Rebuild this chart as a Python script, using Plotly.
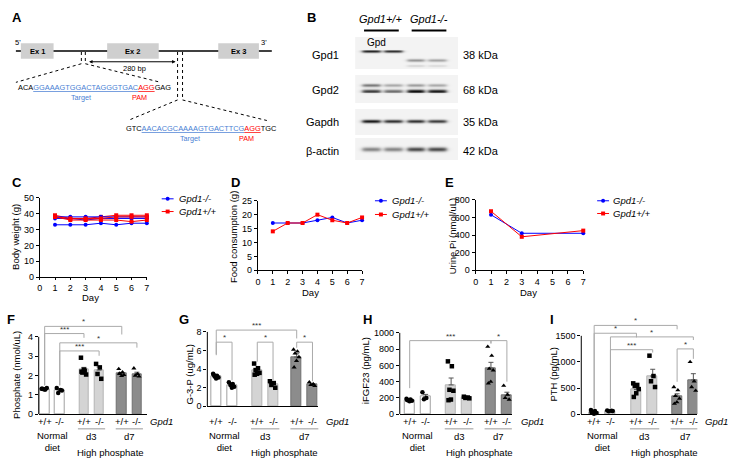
import numpy as np
import plotly.graph_objects as go

W, H = 741, 473
FONT = "Liberation Sans, Arial, sans-serif"
BLUE = "#0000ff"
RED = "#ff0000"
SEQ_BLUE = "#4a7fd4"

# ---------------- data ----------------
days = [1, 2, 3, 4, 5, 6, 7]
body_weight_ko = [[33, 33, 33, 34, 33, 34, 34],
                  [37, 37, 36, 37, 37, 37, 37],
                  [38, 38, 38, 38, 38, 38, 38]]
body_weight_wt = [[39, 37, 37, 38, 39, 39, 39],
                  [38, 36, 36, 36, 36, 35, 36],
                  [38, 37, 37, 37, 38, 38, 38]]
food_ko = [17, 17, 17, 18, 19, 17, 18]
food_wt = [14, 17, 17, 20, 18, 17, 19]
urine_days = [1, 3, 7]
urine_ko = [630, 420, 420]
urine_wt = [670, 380, 450]

genotype_labels = ["+/+", "-/-", "+/+", "-/-", "+/+", "-/-"]
diet_labels = ["Normal<br>diet", "d3", "d7"]

phos_mean = [1.30, 1.24, 2.30, 2.28, 2.10, 2.08]
phos_sem = [0.03, 0.06, 0.12, 0.16, 0.06, 0.09]
phos_points = [[1.32, 1.28, 1.30, 1.35, 1.27, 1.31], [1.35, 1.25, 1.10, 1.22],
               [2.92, 2.25, 2.15, 2.05, 2.30, 2.20], [2.60, 2.42, 2.08, 1.83],
               [2.34, 2.17, 2.08, 2.03, 1.98, 2.10], [2.37, 2.08, 2.00, 1.95]]

g3p_mean = [3.2, 2.3, 3.85, 2.35, 5.3, 2.35]
g3p_sem = [0.1, 0.12, 0.2, 0.17, 0.35, 0.1]
g3p_points = [[3.5, 3.3, 3.2, 3.1, 3.0, 3.4], [2.6, 2.4, 2.3, 2.1, 2.0],
              [4.6, 4.1, 3.9, 3.6, 3.5, 3.4], [2.7, 2.5, 2.3, 2.0],
              [6.1, 5.9, 5.7, 5.3, 4.9, 4.2], [2.6, 2.4, 2.3, 2.2]]

fgf_mean = [175, 215, 360, 205, 568, 232]
fgf_sem = [8, 28, 85, 5, 70, 38]
fgf_points = [[190, 180, 170, 165, 160, 175], [270, 200, 185],
              [650, 590, 300, 288, 180, 172], [215, 205, 200, 195],
              [830, 720, 560, 540, 400, 380], [350, 240, 200, 180]]

pth_mean = [40, 62, 470, 730, 345, 655]
pth_sem = [12, 5, 40, 130, 45, 120]
pth_points = [[80, 60, 40, 20, 10, 30], [70, 65, 55, 60],
              [590, 560, 540, 480, 400, 330], [1120, 730, 630, 520],
              [520, 460, 350, 300, 230, 200], [1000, 630, 520, 450]]

# significance brackets: (bar i, bar j, top, left-leg bottom, right-leg bottom, label)
phos_sig = [(0, 4, 4.54, 1.49, 4.12, "*"), (0, 2, 4.17, 1.49, 3.95, "***"),
            (1, 5, 3.69, 1.49, 3.44, "*"), (1, 3, 3.27, 1.49, 3.02, "***")]
g3p_sig = [(0, 4, 8.2, 5.6, 7.3, "***"), (0, 1, 6.9, 5.5, 2.8, "*"),
           (2, 3, 6.9, 4.8, 2.8, "*"), (4, 5, 6.9, 6.3, 2.7, "*")]
fgf_sig = [(0, 4, 905, 320, 870, "***"), (4, 5, 905, 870, 400, "*")]
pth_sig = [(0, 4, 1700, 110, 1625, "*"), (0, 2, 1550, 110, 1470, "*"),
           (1, 5, 1480, 110, 1420, "*"), (1, 3, 1235, 110, 1180, "***"),
           (4, 5, 1250, 620, 1060, "*")]

# western blot band intensities per lane (4 lanes)
blot_names = ["Gpd1", "Gpd2", "Gapdh", "β-actin"]
blot_sizes = ["38 kDa", "68 kDa", "35 kDa", "42 kDa"]
gpd1_band = [0.85, 0.80, 0.0, 0.0]
gpd1_lower_band = [0.0, 0.0, 0.38, 0.32]
gpd1_faint_band = [0.0, 0.0, 0.12, 0.10]
gpd2_upper_band = [0.50, 0.30, 0.35, 0.30]
gpd2_lower_band = [0.75, 0.55, 0.95, 0.90]
gapdh_band = [0.90, 0.80, 0.80, 0.75]
actin_band = [0.45, 0.45, 0.70, 0.70]

# ---------------- helpers ----------------
def X(px):
    return px / W


def Y(py):
    return 1 - py / H


def xmap(p1, v1, p2, v2, lo, hi):
    s = (v2 - v1) / (p2 - p1)
    return dict(domain=[lo / W, hi / W], range=[v1 + (lo - p1) * s, v1 + (hi - p1) * s])


def ymap(p1, v1, p2, v2, top, bottom):
    s = (v2 - v1) / (p2 - p1)
    return dict(domain=[1 - bottom / H, 1 - top / H],
                range=[v1 + (bottom - p1) * s, v1 + (top - p1) * s])


fig = go.Figure()
shapes = []
annos = []


def anno(**kw):
    d = dict(showarrow=False, xanchor="center", yanchor="middle")
    d.update(kw)
    annos.append(d)


def text(x, y, t, size=9.5, **kw):
    col = kw.pop("color", "black")
    anno(x=X(x), y=Y(y), xref="paper", yref="paper", text=t,
         font=dict(family=FONT, size=size, color=col), **kw)


def pline(x0, y0, x1, y1, color="black", width=1, dash=None):
    ln = dict(color=color, width=width)
    if dash:
        ln["dash"] = dash
    shapes.append(dict(type="line", xref="paper", yref="paper", x0=X(x0), y0=Y(y0),
                       x1=X(x1), y1=Y(y1), line=ln))


TICKFONT = dict(family=FONT, size=9, color="black")


def base_axis(**kw):
    d = dict(showline=True, linecolor="black", linewidth=1, ticks="outside", ticklen=3,
             tickwidth=1, tickcolor="black", tickfont=TICKFONT, showgrid=False,
             zeroline=False, fixedrange=True)
    d.update(kw)
    return d


layout_axes = {}

# ---------------- panel A: gene diagram ----------------
pline(13, 47, 271, 47, width=1.6)
for (x0, x1, lab) in [(18, 51, "Ex 1"), (105, 157, "Ex 2"), (217, 258, "Ex 3")]:
    shapes.append(dict(type="rect", xref="paper", yref="paper", x0=X(x0), x1=X(x1),
                       y0=Y(55), y1=Y(39), fillcolor="#cfcfcf", line=dict(width=0)))
    text((x0 + x1) / 2, 47, "<b>" + lab + "</b>", size=7.5)
text(15, 38, "5'", size=7.5)
text(263, 38, "3'", size=7.5)
for xx in (79, 83):
    pline(xx, 48, xx, 60, dash="dot")
for xx in (176, 181):
    pline(xx, 48, xx, 97, dash="dot")
pline(79, 60, 13, 79, dash="dot")
pline(83, 60, 159, 79, dash="dot")
pline(176, 97, 126, 118, dash="dot")
pline(181, 97, 266, 118, dash="dot")
annos.append(dict(x=X(174), y=Y(58), ax=-88, ay=0, xref="paper", yref="paper",
                  axref="pixel", ayref="pixel", text="", showarrow=True, arrowhead=2,
                  arrowsize=0.7, arrowwidth=1, arrowside="end+start", arrowcolor="black"))
text(133, 65, "280 bp", size=7.5)
seq1 = ('ACA<span style="color:%s"><u>GGAAAGTGGACTAGGGTGAC</u></span>'
        '<span style="color:%s"><u>AGG</u></span>GAG' % (SEQ_BLUE, RED))
seq2 = ('GTC<span style="color:%s"><u>AACACGCAAAAGTGACTTCG</u></span>'
        '<span style="color:%s"><u>AGG</u></span>TGC' % (SEQ_BLUE, RED))
text(13, 84, seq1, size=7.4, xanchor="left")
text(122, 126, seq2, size=7.4, xanchor="left")
text(79, 94, "Target", size=7.2, color=SEQ_BLUE)
text(138, 94, "PAM", size=7.2, color=RED)
text(189, 136, "Target", size=7.2, color=SEQ_BLUE)
text(245, 136, "PAM", size=7.2, color=RED)

# ---------------- panel B: western blot ----------------
bx = np.arange(355, 461)
by = np.arange(30, 161)
XX, YY = np.meshgrid(bx, by)
Z = np.zeros(XX.shape)
blot_boxes = [(33, 65), (72, 100), (107, 133), (137, 158)]
for (y0, y1) in blot_boxes:
    Z[(YY >= y0) & (YY <= y1) & (XX <= 458)] = 0.05
lane_centers = [371, 393, 416, 438]
band_rows = [(48, gpd1_band, 1.4), (57, gpd1_lower_band, 1.5), (62.5, gpd1_faint_band, 1.2),
             (82, gpd2_upper_band, 1.6), (88, gpd2_lower_band, 1.9),
             (119, gapdh_band, 1.7), (148, actin_band, 2.2)]
for (yc, inten, sig) in band_rows:
    for c, a in zip(lane_centers, inten):
        lane = 1 / (1 + np.exp((np.abs(XX - c) - 9) / 1.3))
        Z += a * np.exp(-((YY - yc) / sig) ** 2) * lane
Z = np.clip(Z, 0, 1)
fig.add_trace(go.Heatmap(x=bx, y=by, z=Z, colorscale=[[0, "#ffffff"], [1, "#111111"]],
                         zmin=0, zmax=1, showscale=False, hoverinfo="skip",
                         xaxis="x8", yaxis="y8"))
layout_axes["xaxis8"] = dict(domain=[X(355), X(461)], range=[354.5, 460.5], visible=False,
                             anchor="y8", fixedrange=True)
layout_axes["yaxis8"] = dict(domain=[Y(160.5), Y(29.5)], range=[160.5, 29.5], visible=False,
                             anchor="x8", fixedrange=True)
text(381, 14, "<i>Gpd1+/+</i>", size=11)
text(429, 14, "<i>Gpd1-/-</i>", size=11)
pline(364, 26, 399, 26, width=2)
pline(412, 26, 447, 26, width=2)
text(377, 38, "Gpd", size=10)
for name, size, yy in zip(blot_names, blot_sizes, [51, 87, 120, 149]):
    text(341, yy, name, size=11, xanchor="right")
    text(462, yy, size, size=11, xanchor="left")

# ---------------- panels C, D, E: line charts ----------------
for k, (ko, wt) in enumerate(zip(body_weight_ko, body_weight_wt)):
    fig.add_trace(go.Scatter(x=days, y=ko, mode="lines+markers", xaxis="x", yaxis="y",
                             line=dict(color=BLUE, width=1), cliponaxis=False,
                             marker=dict(symbol="circle", size=4, color=BLUE), showlegend=False))
    fig.add_trace(go.Scatter(x=days, y=wt, mode="lines+markers", xaxis="x", yaxis="y",
                             line=dict(color=RED, width=1), cliponaxis=False,
                             marker=dict(symbol="square", size=4, color=RED), showlegend=False))
layout_axes["xaxis"] = base_axis(domain=[X(37), X(145)], range=[0, 7], dtick=1, tick0=0, anchor="y",
                                 ticklen=2)
layout_axes["yaxis"] = base_axis(domain=[Y(278), Y(197)], range=[0, 50], dtick=10, tick0=0, anchor="x")

for ser, col, sym in [(food_ko, BLUE, "circle"), (food_wt, RED, "square")]:
    fig.add_trace(go.Scatter(x=days, y=ser, mode="lines+markers", xaxis="x2", yaxis="y2",
                             line=dict(color=col, width=1), cliponaxis=False,
                             marker=dict(symbol=sym, size=4, color=col), showlegend=False))
layout_axes["xaxis2"] = base_axis(domain=[X(257), X(362)], range=[0, 7], dtick=1, tick0=0, anchor="y2")
layout_axes["yaxis2"] = base_axis(domain=[Y(271), Y(200)], range=[0, 25], dtick=5, tick0=0, anchor="x2")

for ser, col, sym in [(urine_ko, BLUE, "circle"), (urine_wt, RED, "square")]:
    fig.add_trace(go.Scatter(x=urine_days, y=ser, mode="lines+markers", xaxis="x3", yaxis="y3",
                             line=dict(color=col, width=1), cliponaxis=False,
                             marker=dict(symbol=sym, size=4, color=col), showlegend=False))
layout_axes["xaxis3"] = base_axis(domain=[X(476.5), X(585)], range=[0, 7], dtick=1, tick0=0, anchor="y3")
layout_axes["yaxis3"] = base_axis(domain=[Y(271), Y(199)], range=[0, 800], dtick=200, tick0=0, anchor="x3")


# manual legends
def legend(xs, xt, ys):
    for yy, col, sym, name in [(ys[0], BLUE, "circle", "<i>Gpd1-/-</i>"),
                               (ys[1], RED, "rect", "<i>Gpd1+/+</i>")]:
        pline(xs - 6, yy, xs + 6, yy, color=col, width=1)
        shapes.append(dict(type=sym, xref="paper", yref="paper", x0=X(xs - 2), x1=X(xs + 2),
                           y0=Y(yy + 2), y1=Y(yy - 2), fillcolor=col, line=dict(color=col, width=0)))
        text(xt, yy, name, size=9.5, xanchor="left")


legend(166, 175, [198, 211])
legend(381, 390, [200, 214])
legend(605, 613, [200, 213])

text(13, 237, "Body weight (g)", size=9.5, textangle=-90)
text(233, 237, "Food consumption (g)", size=9.5, textangle=-90)
text(453, 236, "Urine Pi (nmol/uL)", size=9.5, textangle=-90)
text(88, 299, "Day", size=9.5)
text(310, 294, "Day", size=9.5)
text(530, 294, "Day", size=9.5)

# ---------------- panels F-I: bar charts ----------------
pos = [0, 1, 2.6, 3.6, 5.1, 6.1]
fills = ["#ffffff", "#ffffff", "#d4d4d4", "#d4d4d4", "#8c8c8c", "#8c8c8c"]
edges = ["#a0a0a0", "#a0a0a0", "#b4b4b4", "#b4b4b4", "#707070", "#707070"]
symbols = ["circle", "circle", "square", "square", "triangle-up", "triangle-up"]


def jitter(n):
    return [0.2 * (((k * 0.618034) % 1) * 2 - 1) for k in range(n)]


panels = [
    (4, phos_mean, phos_sem, phos_points, phos_sig, (42, 135, 36, 145), (418, 4, 339, 316), 4, 1, 160),
    (5, g3p_mean, g3p_sem, g3p_points, g3p_sig, (215, 312, 206, 318), (410, 8, 334, 316), 8, 2, 337),
    (6, fgf_mean, fgf_sem, fgf_points, fgf_sig, (410, 508, 400, 513), (418, 1000, 335, 316), 1000, 200, 534),
    (7, pth_mean, pth_sem, pth_points, pth_sig, (596, 696, 583, 700), (418, 1500, 338, 316), 1500, 500, 719),
]

for (n, means, sems, pts, sigs, xs, ys, ymaxt, dt, gx) in panels:
    xa, ya = "x%d" % n, "y%d" % n
    p1, p6, xlo, xhi = xs
    z0, rv, rp, top = ys
    xm = xmap(p1, pos[0], p6, pos[5], xlo, xhi)
    ym = ymap(z0, 0, rp, rv, top, z0)
    layout_axes["xaxis%d" % n] = dict(domain=xm["domain"], range=xm["range"], showline=True,
                                      linecolor="black", linewidth=1, ticks="", showticklabels=False,
                                      showgrid=False, zeroline=False, anchor=ya, fixedrange=True)
    layout_axes["yaxis%d" % n] = base_axis(domain=ym["domain"], range=ym["range"], showline=False,
                                           tickvals=list(range(0, ymaxt + 1, dt)), anchor=xa)
    shapes.append(dict(type="line", xref=xa + " domain", yref=ya, x0=0, x1=0, y0=0, y1=ymaxt,
                       line=dict(color="black", width=1)))
    fig.add_trace(go.Bar(x=pos, y=means, width=0.62, xaxis=xa, yaxis=ya,
                         marker=dict(color=fills, line=dict(color=edges, width=1)),
                         error_y=dict(type="data", array=sems, arrayminus=[0] * 6, symmetric=False,
                                      visible=True, color="#555555", thickness=1, width=2.5),
                         showlegend=False, hoverinfo="skip"))
    for g in range(6):
        jx = [pos[g] + j for j in jitter(len(pts[g]))]
        fig.add_trace(go.Scatter(x=jx, y=pts[g], mode="markers", xaxis=xa, yaxis=ya,
                                 cliponaxis=False, showlegend=False,
                                 marker=dict(symbol=symbols[g], size=4.5, color="black")))
    for (i, j, yt, yl, yr, lab) in sigs:
        for (x0, y0, x1, y1) in [(pos[i], yt, pos[j], yt), (pos[i], yl, pos[i], yt), (pos[j], yr, pos[j], yt)]:
            shapes.append(dict(type="line", xref=xa, yref=ya, x0=x0, x1=x1, y0=y0, y1=y1,
                               line=dict(color="#aaaaaa", width=1)))
        anno(x=(pos[i] + pos[j]) / 2, y=yt, xref=xa, yref=ya, text=lab, yanchor="bottom", yshift=-2,
             font=dict(family=FONT, size=8, color="#333333"))
    for g in range(6):
        anno(x=pos[g], y=Y(426), xref=xa, yref="paper", text=genotype_labels[g],
             font=dict(family=FONT, size=9.5, color="black"))
    anno(x=gx / W, y=Y(426), xref="paper", yref="paper", text="<i>Gpd1</i>",
         font=dict(family=FONT, size=9.5, color="black"))
    anno(x=(pos[0] + pos[1]) / 2, y=Y(446), xref=xa, yref="paper", text=diet_labels[0],
         font=dict(family=FONT, size=9.5, color="black"))
    for k, lab in [(2, diet_labels[1]), (4, diet_labels[2])]:
        shapes.append(dict(type="line", xref=xa, yref="paper", x0=pos[k] - 0.4, x1=pos[k + 1] + 0.4,
                           y0=Y(433), y1=Y(433), line=dict(color="#999999", width=1)))
        anno(x=(pos[k] + pos[k + 1]) / 2, y=Y(441), xref=xa, yref="paper", text=lab,
             font=dict(family=FONT, size=9.5, color="black"))
    anno(x=(pos[2] + pos[5]) / 2, y=Y(457), xref=xa, yref="paper", text="High phosphate",
         font=dict(family=FONT, size=9.5, color="black"))

text(13, 378, "Phosphate (nmol/uL)", size=9.5, textangle=-90)
text(188, 377, "G-3-P (ug/mL)", size=9.5, textangle=-90)
text(365, 374, "iFGF23 (pg/mL)", size=9.5, textangle=-90)
text(555, 378, "PTH (pg/mL)", size=9.5, textangle=-90)

for lab, x, y in [("A", 14, 13), ("B", 311, 13), ("C", 14, 181), ("D", 234, 181), ("E", 450, 181),
                  ("F", 8, 321), ("G", 182, 321), ("H", 367, 321), ("I", 553, 321)]:
    text(x, y, "<b>" + lab + "</b>", size=13)

fig.update_layout(width=W, height=H, margin=dict(l=0, r=0, t=0, b=0),
                  paper_bgcolor="white", plot_bgcolor="rgba(0,0,0,0)",
                  font=dict(family=FONT, size=9.5, color="black"),
                  showlegend=False, bargap=0, shapes=shapes, annotations=annos, **layout_axes)
fig.write_html("out.html", config={"displayModeBar": False},
               post_script="document.body.style.margin='0';document.body.style.overflow='hidden';")
